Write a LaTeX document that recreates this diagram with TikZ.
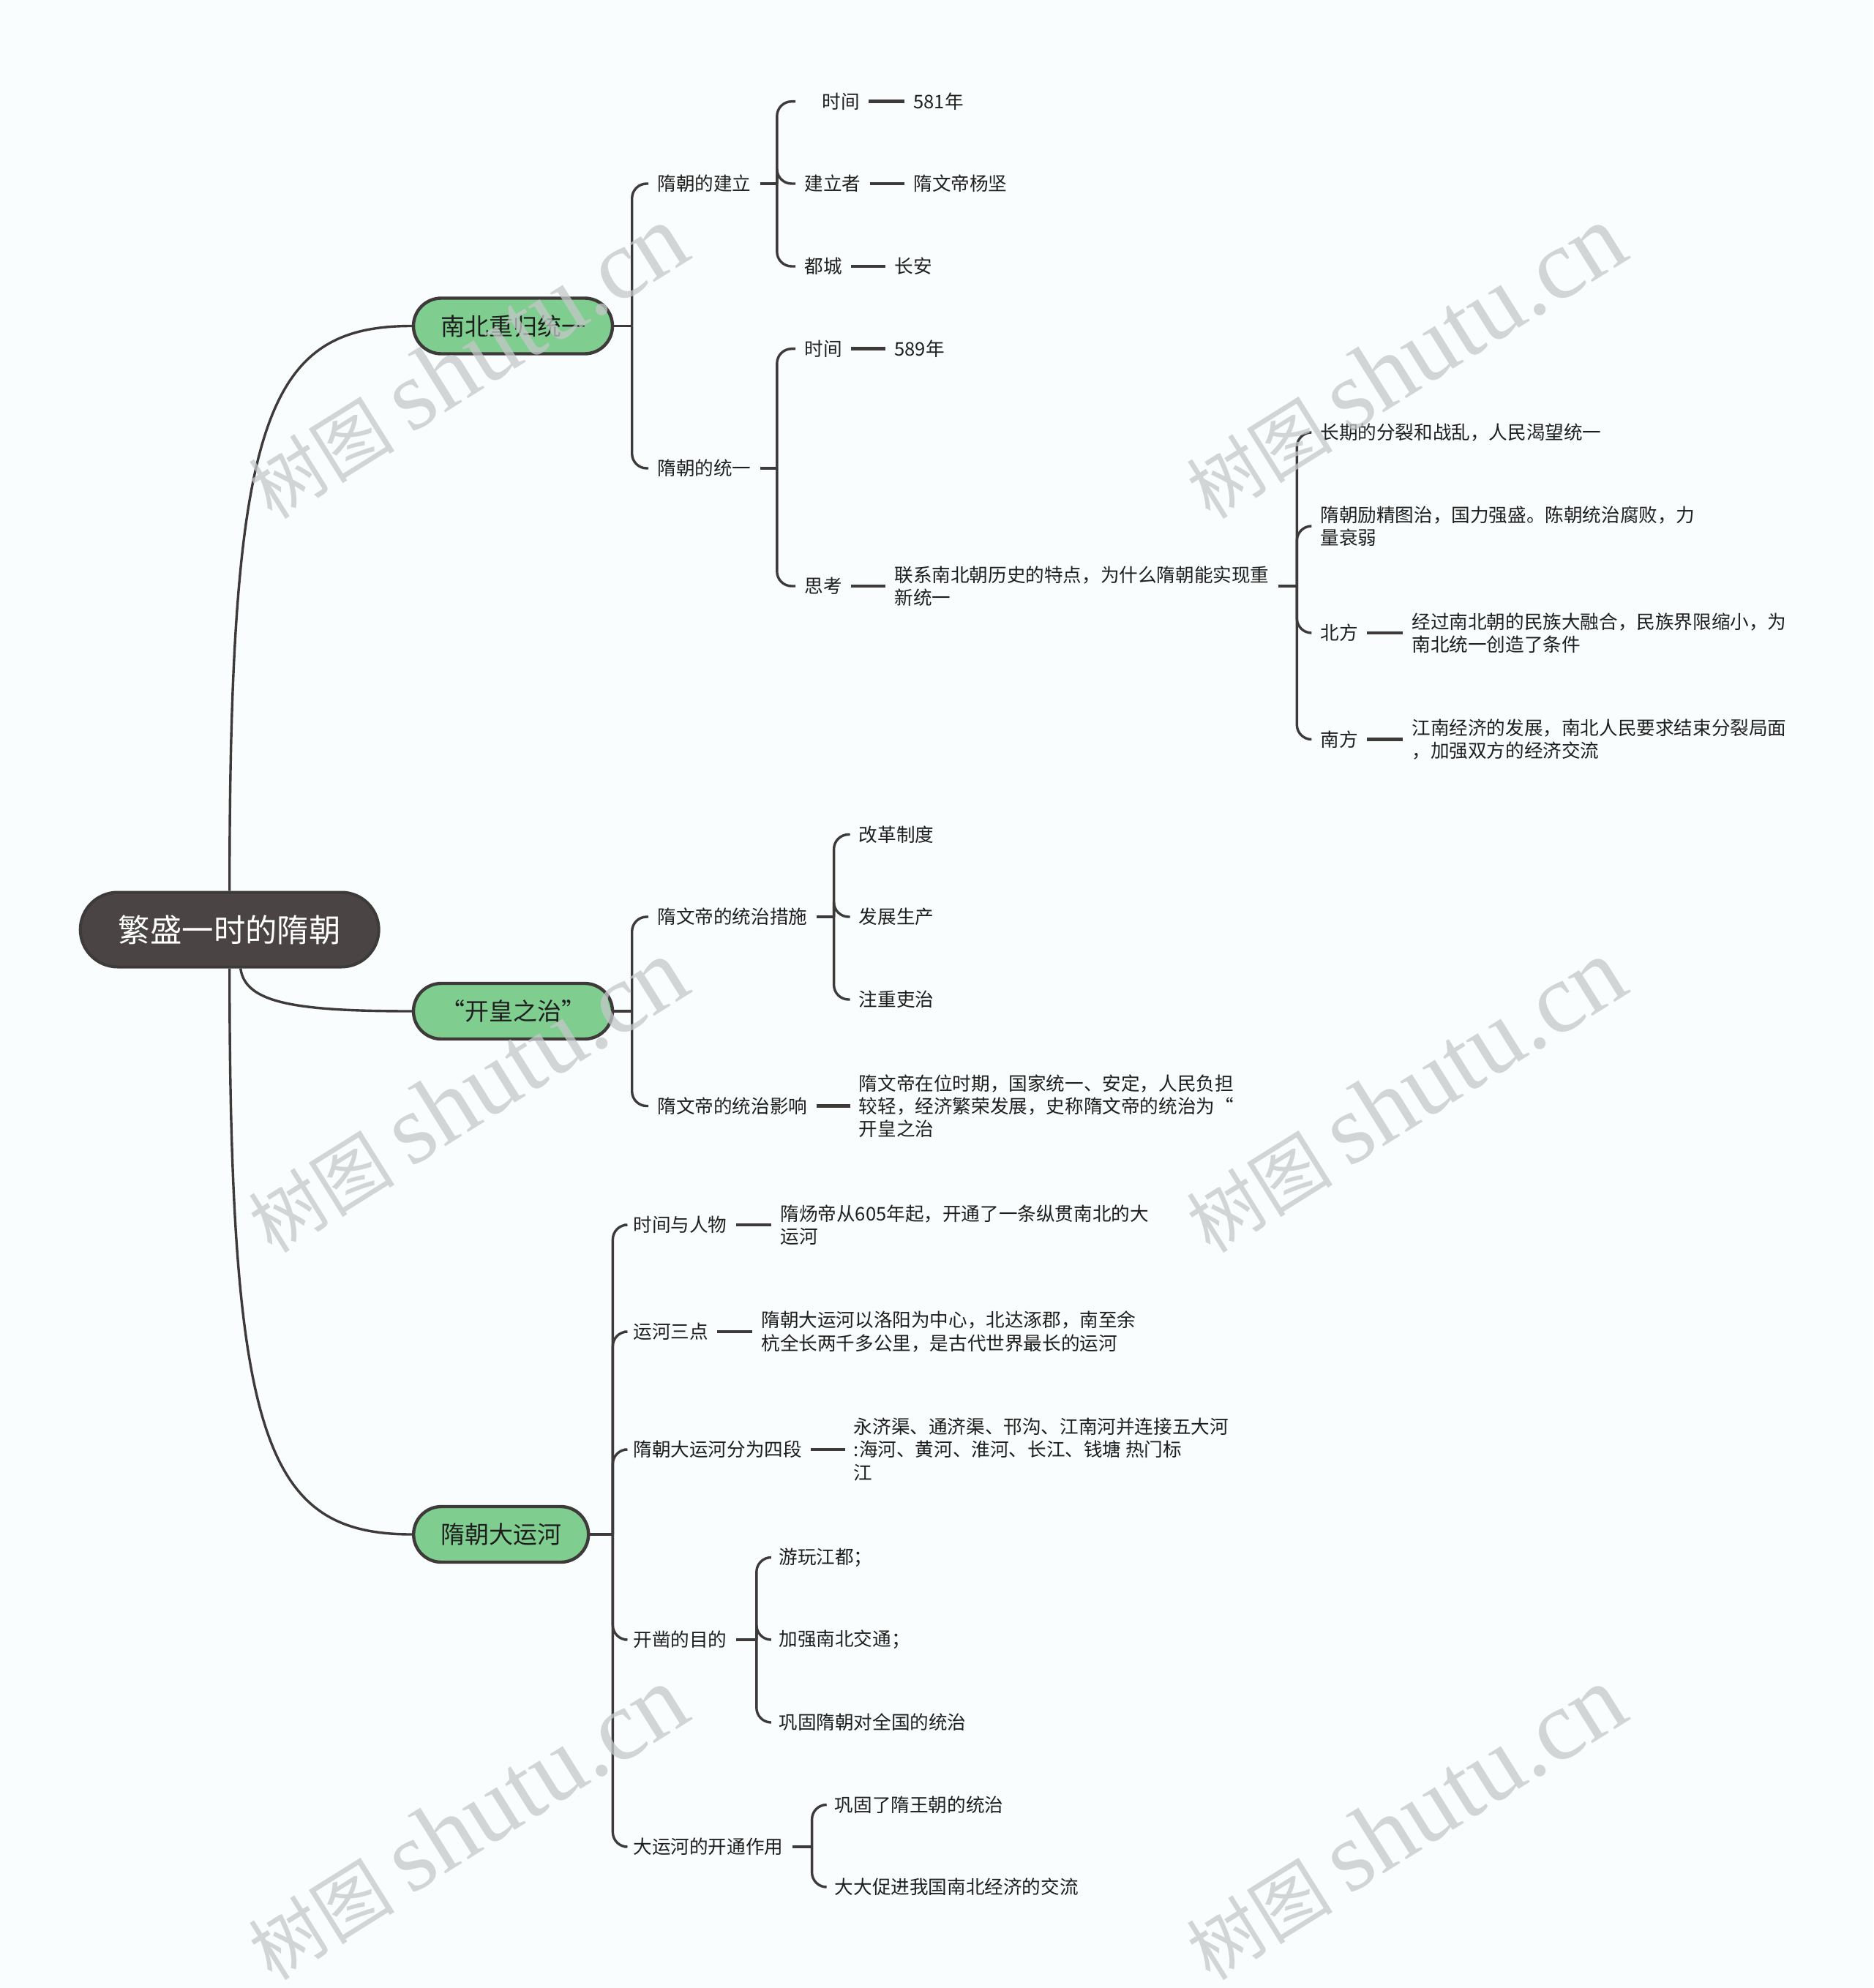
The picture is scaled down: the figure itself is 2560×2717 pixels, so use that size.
\documentclass[tikz,border=0pt]{standalone}
\usepackage{fontspec}
\setmainfont{Noto Sans CJK SC}
\newfontfamily\wmlatin{Liberation Serif}
\usetikzlibrary{calc}
\definecolor{bgc}{RGB}{250,253,253}
\definecolor{ln}{RGB}{62,58,58}
\definecolor{rootfill}{RGB}{74,69,68}
\definecolor{greenfill}{RGB}{128,205,144}
\definecolor{txtc}{RGB}{30,30,30}
\definecolor{wm}{RGB}{196,200,201}
\pgfdeclarelayer{bglayer}
\pgfdeclarelayer{fglayer}
\pgfsetlayers{bglayer,main,fglayer}
\begin{document}
\begin{tikzpicture}[x=0.5pt,y=-0.5pt,
  rootnode/.style={draw=ln, line width=2pt, fill=rootfill, rounded corners=25.5pt,
    minimum width=204pt, minimum height=51pt, text=white, inner sep=0pt,
    font=\fontsize{21.7pt}{26pt}\selectfont},
  topic/.style={draw=ln, line width=2.2pt, fill=greenfill, rounded corners=19pt,
    minimum width=136pt, minimum height=38pt, text=txtc, inner sep=0pt,
    font=\fontsize{16.5pt}{20pt}\selectfont},
  txt/.style={anchor=west, inner xsep=6pt, inner ysep=2pt, align=left, text=txtc,
    font=\fontsize{12.8pt}{15.6pt}\selectfont},
  link/.style={draw=ln, line width=1.7pt},
  brk/.style={link, rounded corners=10pt},
  dashl/.style={draw=ln, line width=2.4pt},
  wmark/.style={text=wm, opacity=0.75, inner sep=0pt, rotate=32,
    font=\fontsize{50pt}{60pt}\selectfont}
]
\useasboundingbox (0,0) rectangle (2560,2717);
\begin{pgfonlayer}{bglayer}
\fill[bgc] (0,0) rectangle (2560,2717);
\end{pgfonlayer}

% root and topics
\node[rootnode] (root) at (313.7,1270.5) {繁盛一时的隋朝};
\node[topic] (A) at (701,445.5) {南北重归统一};
\node[topic] (B) at (701,1382) {“开皇之治”};
\node[topic, minimum width=119.5pt] (C) at (684.7,2097) {隋朝大运河};

% branch A
\node[txt] (A1) at (886,251) {隋朝的建立};
\node[txt] (A2) at (886,640) {隋朝的统一};
\node[txt] (A11) at (1087,138.7) {\hspace*{12pt}时间};
\node[txt] (A11v) at (1236,138.7) {581年};
\node[txt] (A12) at (1087,251) {建立者};
\node[txt] (A12v) at (1236,251) {隋文帝杨坚};
\node[txt] (A13) at (1087,364) {都城};
\node[txt] (A13v) at (1210,364) {长安};
\node[txt] (A21) at (1087,476.7) {时间};
\node[txt] (A21v) at (1210,476.7) {589年};
\node[txt] (A22) at (1087,801) {思考};
\node[txt] (A22v) at (1210,801) {联系南北朝历史的特点，为什么隋朝能实现重\\新统一};
\node[txt] (A221) at (1792,591) {长期的分裂和战乱，人民渴望统一};
\node[txt] (A222) at (1792,719) {隋朝励精图治，国力强盛。陈朝统治腐败，力\\量衰弱};
\node[txt] (A223) at (1792,865) {北方};
\node[txt] (A223v) at (1917,865) {经过南北朝的民族大融合，民族界限缩小，为\\南北统一创造了条件};
\node[txt] (A224) at (1792,1010.5) {南方};
\node[txt] (A224v) at (1917,1010.5) {江南经济的发展，南北人民要求结束分裂局面\\，加强双方的经济交流};

% branch B
\node[txt] (B1) at (886,1253) {隋文帝的统治措施};
\node[txt] (B2) at (886,1511.5) {隋文帝的统治影响};
\node[txt] (B11) at (1161.5,1140.5) {改革制度};
\node[txt] (B12) at (1161.5,1253) {发展生产};
\node[txt] (B13) at (1161.5,1366) {注重吏治};
\node[txt] (B2v) at (1161.5,1511.5) {隋文帝在位时期，国家统一、安定，人民负担\\较轻，经济繁荣发展，史称隋文帝的统治为“\\开皇之治};

% branch C
\node[txt] (C1) at (853,1674) {时间与人物};
\node[txt] (C1v) at (1054,1674) {隋炀帝从605年起，开通了一条纵贯南北的大\\运河};
\node[txt] (C2) at (853,1820) {运河三点};
\node[txt] (C2v) at (1028,1820) {隋朝大运河以洛阳为中心，北达涿郡，南至余\\杭全长两千多公里，是古代世界最长的运河};
\node[txt] (C3) at (853,1981) {隋朝大运河分为四段};
\node[txt] (C3v) at (1154.5,1981) {永济渠、通济渠、邗沟、江南河并连接五大河\\:海河、黄河、淮河、长江、钱塘 热门标\\江};
\node[txt] (C4) at (853,2241) {开凿的目的};
\node[txt] (C41) at (1052,2128.5) {游玩江都；};
\node[txt] (C42) at (1052,2241) {加强南北交通；};
\node[txt] (C43) at (1052,2354) {巩固隋朝对全国的统治};
\node[txt] (C5) at (853,2524) {大运河的开通作用};
\node[txt] (C51) at (1128.5,2466.5) {巩固了隋王朝的统治};
\node[txt] (C52) at (1128.5,2579) {大大促进我国南北经济的交流};

\begin{pgfonlayer}{bglayer}
% root connectors
\draw[link] (root.north) .. controls (313.7,572) and (364,445.5) .. (A.west);
\draw[link] (root.south) .. controls (313.7,1970.5) and (364,2097) .. (C.west);
\draw[link] ($(root.south)+(15,0)$) .. controls (335,1370) and (400,1382) .. (B.west);

% A
\draw[link] (A.east) -- ++(24.5,0) coordinate (jA);
\draw[brk] (jA) |- (A1.west);
\draw[brk] (jA) |- (A2.west);
\draw[link] (A1.east) -- ++(23,0) coordinate (jA1);
\draw[brk] (jA1) |- (A11.west);
\draw[brk] (jA1) |- (A12.west);
\draw[brk] (jA1) |- (A13.west);
\draw[dashl] (A11.east) -- (A11v.west);
\draw[dashl] (A12.east) -- (A12v.west);
\draw[dashl] (A13.east) -- (A13v.west);
\draw[link] (A2.east) -- ++(23,0) coordinate (jA2);
\draw[brk] (jA2) |- (A21.west);
\draw[brk] (jA2) |- (A22.west);
\draw[dashl] (A21.east) -- (A21v.west);
\draw[dashl] (A22.east) -- (A22v.west);
\draw[link] (A22v.east) -- ++(25.5,0) coordinate (jA22);
\draw[brk] (jA22) |- (A221.west);
\draw[brk] (jA22) |- (A222.west);
\draw[brk] (jA22) |- (A223.west);
\draw[brk] (jA22) |- (A224.west);
\draw[dashl] (A223.east) -- (A223v.west);
\draw[dashl] (A224.east) -- (A224v.west);

% B
\draw[link] (B.east) -- ++(24.5,0) coordinate (jB);
\draw[brk] (jB) |- (B1.west);
\draw[brk] (jB) |- (B2.west);
\draw[link] (B1.east) -- ++(24,0) coordinate (jB1);
\draw[brk] (jB1) |- (B11.west);
\draw[brk] (jB1) |- (B12.west);
\draw[brk] (jB1) |- (B13.west);
\draw[dashl] (B2.east) -- (B2v.west);

% C
\draw[link] (C.east) -- ++(31,0) coordinate (jC);
\draw[brk] (jC) |- (C1.west);
\draw[brk] (jC) |- (C2.west);
\draw[brk] (jC) |- (C3.west);
\draw[brk] (jC) |- (C4.west);
\draw[brk] (jC) |- (C5.west);
\draw[dashl] (C1.east) -- (C1v.west);
\draw[dashl] (C2.east) -- (C2v.west);
\draw[dashl] (C3.east) -- (C3v.west);
\draw[link] (C4.east) -- ++(28,0) coordinate (jC4);
\draw[brk] (jC4) |- (C41.west);
\draw[brk] (jC4) |- (C42.west);
\draw[brk] (jC4) |- (C43.west);
\draw[link] (C5.east) -- ++(27,0) coordinate (jC5);
\draw[brk] (jC5) |- (C51.west);
\draw[brk] (jC5) |- (C52.west);
\end{pgfonlayer}

% watermarks
\begin{pgfonlayer}{fglayer}
\foreach \wx/\wy [count=\i] in {638/495, 1920/495, 638/1498, 1920/1498, 638/2492, 1920/2492}{
  \node[wmark] (wm\i) at (\wx,\wy) {树图 {\wmlatin\fontsize{68pt}{70pt}\selectfont shutu.cn}};
}
\end{pgfonlayer}
\end{tikzpicture}
\end{document}
